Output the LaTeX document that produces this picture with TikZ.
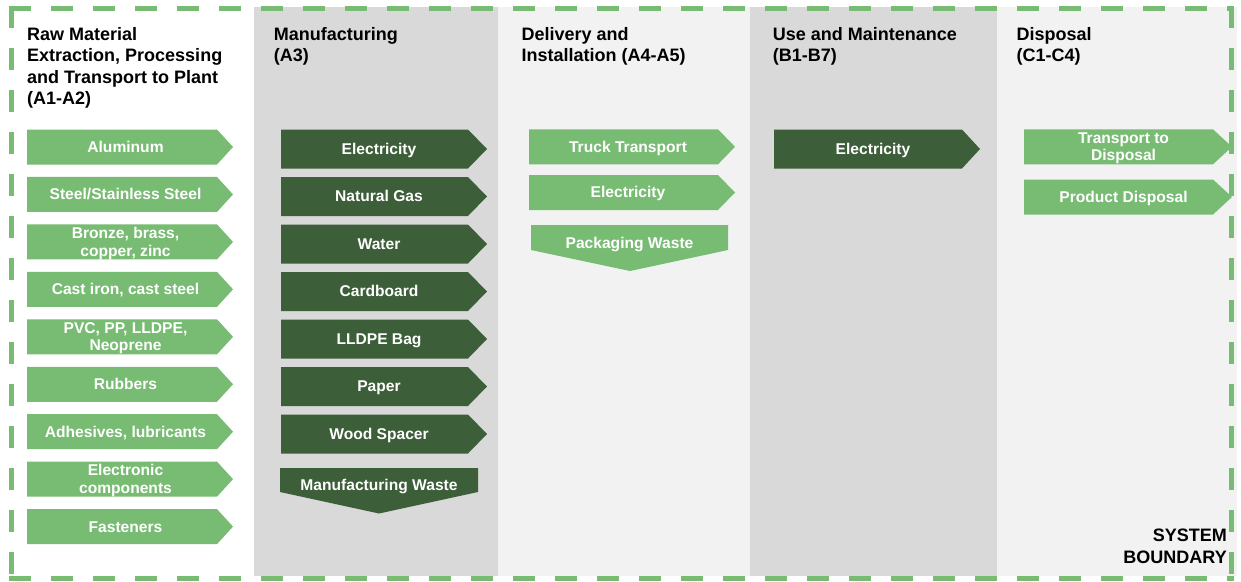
\documentclass[tikz,border=0pt]{standalone}
\usepackage{fontspec}
\setmainfont{Liberation Sans}
\definecolor{lgreen}{HTML}{78BC73}
\definecolor{dgreen}{HTML}{3C5E38}
\definecolor{gbg}{HTML}{D9D9D9}
\definecolor{lbg}{HTML}{F2F2F2}
\tikzset{
  lightfill/.style={fill=lgreen},
  darkfill/.style={fill=dgreen},
  lbl/.style={inner sep=0pt, anchor=center, text=white, font=\fontsize{15.6}{17.4}\selectfont\bfseries},
  head/.style={inner sep=0pt, anchor=base west, text=black, font=\fontsize{18}{21.6}\selectfont\bfseries},
  boundary/.style={draw=lgreen, line width=5pt, line cap=rect, dash pattern=on 17pt off 25pt},
}
\newcommand\mylines[1]{\begin{tabular}{@{}c@{}}#1\end{tabular}}
% name, left, body end, tip, centre y, half height, style, text x, text
\newcommand\rarr[9]{%
  \fill[#7] (#2,#5-#6) -- (#3,#5-#6) -- (#4,#5) -- (#3,#5+#6) -- (#2,#5+#6) -- cycle;
  \node[lbl] (#1) at (#8,#5+2) {\mylines{#9}};
}
% name, left, right, top, rect bottom, tip x, tip y, style, text
\newcommand\darr[9]{%
  \fill[#8] (#2,#4) -- (#3,#4) -- (#3,#5) -- (#6,#7) -- (#2,#5) -- cycle;
  \node[lbl] (#1) at ({(#2+#3)/2},{(#4+#5)/2+7.3}) {\mylines{#9}};
}
\begin{document}
\begin{tikzpicture}[x=1pt,y=-1pt]
\useasboundingbox (0,0) rectangle (1241,581);
\fill[white] (0,0) rectangle (1241,581);
% column backgrounds
\fill[gbg] (254,7) rectangle (498,576);
\fill[lbg] (498,7) rectangle (750,576);
\fill[gbg] (750,7) rectangle (997,576);
\fill[lbg] (997,7) rectangle (1237,576);
% system boundary
\draw[boundary] (11,8.5) -- (1231,8.5);
\draw[boundary] (11,8.5) -- (11,578);
\draw[boundary] (1231,8.5) -- (1231,578);
\draw[boundary] (11,578) -- (1231,578);
% headings
\node[head] (h1) at (27,40) {\begin{tabular}[t]{@{}l@{}}Raw Material\\Extraction, Processing\\and Transport to Plant\\(A1-A2)\end{tabular}};
\node[head] (h2) at (273.7,40) {\begin{tabular}[t]{@{}l@{}}Manufacturing\\(A3)\end{tabular}};
\node[head] (h3) at (521.4,40) {\begin{tabular}[t]{@{}l@{}}Delivery and\\Installation (A4-A5)\end{tabular}};
\node[head] (h4) at (772.7,40) {\begin{tabular}[t]{@{}l@{}}Use and Maintenance\\(B1-B7)\end{tabular}};
\node[head] (h5) at (1016.4,40) {\begin{tabular}[t]{@{}l@{}}Disposal\\(C1-C4)\end{tabular}};
\node[head, anchor=base east] (sb) at (1227,541.7) {\begin{tabular}[t]{@{}r@{}}SYSTEM\\BOUNDARY\end{tabular}};
% column 1
\rarr{a1}{27}{217}{233}{147}{17.5}{lightfill}{125.5}{Aluminum}
\rarr{a2}{27}{217}{233}{194.45}{17.5}{lightfill}{125.5}{Steel/Stainless Steel}
\rarr{a3}{27}{217}{233}{241.9}{17.5}{lightfill}{125.5}{Bronze, brass,\\copper, zinc}
\rarr{a4}{27}{217}{233}{289.35}{17.5}{lightfill}{125.5}{Cast iron, cast steel}
\rarr{a5}{27}{217}{233}{336.8}{17.5}{lightfill}{125.5}{PVC, PP, LLDPE,\\Neoprene}
\rarr{a6}{27}{217}{233}{384.25}{17.5}{lightfill}{125.5}{Rubbers}
\rarr{a7}{27}{217}{233}{431.7}{17.5}{lightfill}{125.5}{Adhesives, lubricants}
\rarr{a8}{27}{217}{233}{479.15}{17.5}{lightfill}{125.5}{Electronic\\components}
\rarr{a9}{27}{217}{233}{526.6}{17.5}{lightfill}{125.5}{Fasteners}
% column 2
\rarr{m1}{281}{468}{487}{149}{19.5}{darkfill}{379}{Electricity}
\rarr{m2}{281}{468}{487}{196.5}{19.5}{darkfill}{379}{Natural Gas}
\rarr{m3}{281}{468}{487}{244}{19.5}{darkfill}{379}{Water}
\rarr{m4}{281}{468}{487}{291.5}{19.5}{darkfill}{379}{Cardboard}
\rarr{m5}{281}{468}{487}{339}{19.5}{darkfill}{379}{LLDPE Bag}
\rarr{m6}{281}{468}{487}{386.5}{19.5}{darkfill}{379}{Paper}
\rarr{m7}{281}{468}{487}{434}{19.5}{darkfill}{379}{Wood Spacer}
\darr{m8}{280}{478}{468}{492}{379}{513.5}{darkfill}{Manufacturing Waste}
% column 3
\rarr{d1}{529}{718}{735}{146.8}{17.5}{lightfill}{628}{Truck Transport}
\rarr{d2}{529}{718}{735}{192.5}{17.5}{lightfill}{628}{Electricity}
\darr{d3}{531}{728}{225}{250}{630}{271}{lightfill}{Packaging Waste}
% column 4
\rarr{u1}{774}{962}{980}{149}{19.5}{darkfill}{873}{Electricity}
% column 5
\rarr{c1}{1024}{1213}{1232}{146.8}{17.5}{lightfill}{1123.5}{Transport to\\Disposal}
\rarr{c2}{1024}{1213}{1232}{197}{17.5}{lightfill}{1123.5}{Product Disposal}
\end{tikzpicture}
\end{document}
